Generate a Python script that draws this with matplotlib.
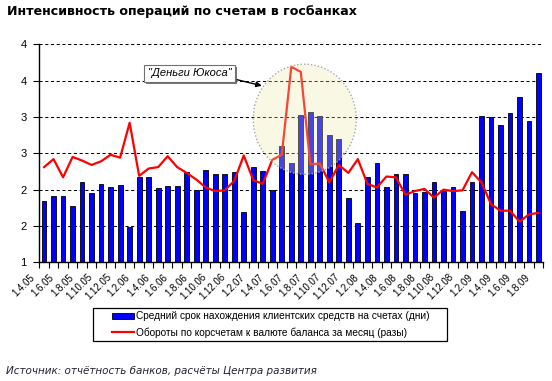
import matplotlib
matplotlib.use("Agg")
import matplotlib.pyplot as plt
import numpy as np
from matplotlib.patches import Ellipse, Rectangle
from matplotlib.lines import Line2D
from matplotlib import patheffects as pe
from matplotlib.transforms import ScaledTranslation

title = "Интенсивность операций по счетам в госбанках"
source = "Источник: отчётность банков, расчёты Центра развития"
bar_label = "Средний срок нахождения клиентских средств на счетах (дни)"
line_label = "Обороты по корсчетам к валюте баланса за месяц (разы)"
note = "\"Деньги Юкоса\""

x_labels = ["1.4.05", "1.6.05", "1.8.05", "1.10.05", "1.12.05", "1.2.06", "1.4.06",
            "1.6.06", "1.8.06", "1.10.06", "1.12.06", "1.2.07", "1.4.07", "1.6.07",
            "1.8.07", "1.10.07", "1.12.07", "1.2.08", "1.4.08", "1.6.08", "1.8.08",
            "1.10.08", "1.12.08", "1.2.09", "1.4.09", "1.6.09", "1.8.09"]

bar_values = [1.85, 1.91, 1.91, 1.78, 2.10, 1.96, 2.08, 2.04, 2.06, 1.49,
              2.18, 2.18, 2.02, 2.05, 2.05, 2.24, 2.00, 2.27, 2.21, 2.21,
              2.24, 1.69, 2.31, 2.25, 2.00, 2.60, 2.36, 3.03, 3.07, 3.01,
              2.75, 2.70, 1.88, 1.54, 2.18, 2.37, 2.03, 2.22, 2.21, 1.96,
              1.97, 2.10, 1.98, 2.03, 1.70, 2.10, 3.01, 3.00, 2.89, 3.06,
              3.28, 2.94, 3.61]

line_values = [2.31, 2.42, 2.17, 2.45, 2.40, 2.34, 2.39, 2.48, 2.44, 2.92,
               2.19, 2.29, 2.31, 2.46, 2.31, 2.23, 2.14, 2.03, 1.98, 1.99,
               2.12, 2.47, 2.13, 2.08, 2.41, 2.48, 3.69, 3.62, 2.35, 2.36,
               2.10, 2.34, 2.23, 2.42, 2.08, 2.03, 2.18, 2.17, 1.93, 1.98,
               2.01, 1.89, 2.00, 1.98, 1.99, 2.24, 2.10, 1.80, 1.71, 1.71,
               1.56, 1.66, 1.68]

y_ticks = [1.0, 1.5, 2.0, 2.5, 3.0, 3.5, 4.0]
y_tick_labels = ["1", "2", "2", "3", "3", "4", "4"]

W, H, DPI = 552, 381, 100
fig = plt.figure(figsize=(W / DPI, H / DPI), dpi=DPI)
fig.patch.set_facecolor("white")

def px_rect(x0, y0, x1, y1):
    return [x0 / W, 1 - y1 / H, (x1 - x0) / W, (y1 - y0) / H]

def fx(px):
    return px / W

def fy(py):
    return 1 - py / H

ax = fig.add_axes(px_rect(39.3, 44.3, 543.3, 262.3))
n = len(bar_values)
x = np.arange(n)

ax.set_xlim(-0.5, n - 0.5)
ax.set_ylim(1, 4)

for yv in y_ticks[1:]:
    ax.axhline(yv, color="black", lw=0.75, ls=(0, (3, 2.5)), zorder=1)

ax.bar(x, bar_values, width=0.5, color="#0000FF", edgecolor="black", lw=0.6, zorder=2)
ax.plot(x, line_values, color="#FF0000", lw=1.6, zorder=3, solid_joinstyle="round")

# highlight ellipse
ax.add_patch(Ellipse((27.41, 2.969), 10.83, 1.514, facecolor="#EEE8AA", alpha=0.3,
                     edgecolor="none", zorder=4))
ax.add_patch(Ellipse((27.41, 2.969), 10.83, 1.514, facecolor="none",
                     edgecolor="#A8A8A8", lw=1.0, ls=(0, (1, 1.5)), zorder=4))

ann = ax.annotate(note, xy=(22.9, 3.43), xytext=(15.3, 3.60), textcoords="data",
                  ha="center", va="center", fontsize=8, style="italic",
                  family="Liberation Sans", zorder=6,
                  bbox=dict(boxstyle="square,pad=0.3", fc="white", ec="#707070", lw=0.8),
                  arrowprops=dict(arrowstyle="-|>", color="black", lw=1.0,
                                  relpos=(1.0, 0.0), shrinkA=0, shrinkB=0,
                                  mutation_scale=8))
ann.get_bbox_patch().set_path_effects([
    pe.SimplePatchShadow(offset=(1.5, -1.5), shadow_rgbFace="#555555", alpha=0.8),
    pe.Normal()])

for s in ["top", "right"]:
    ax.spines[s].set_visible(False)
ax.spines["left"].set_linewidth(1.0)
ax.spines["bottom"].set_linewidth(1.0)

ax.set_yticks(y_ticks)
ax.set_yticklabels(y_tick_labels, fontsize=8, family="Liberation Sans")
ax.tick_params(axis="y", length=4, width=0.8, pad=5)

ax.set_xticks(np.arange(0, n, 2))
ax.set_xticklabels(x_labels, fontsize=7, family="Liberation Sans", rotation=45,
                   ha="right", va="top", rotation_mode="anchor")
ax.set_xticks(np.arange(n + 1) - 0.5, minor=True)
ax.tick_params(axis="x", which="major", length=0, pad=7)
ax.tick_params(axis="x", which="minor", length=4, width=0.8, direction="out")
off = ScaledTranslation(-14 / DPI, 0, fig.dpi_scale_trans)
for lab in ax.get_xticklabels():
    lab.set_transform(lab.get_transform() + off)

fig.text(fx(7), fy(11), title, fontsize=9.1, fontweight="bold",
         family="DejaVu Sans", va="center", ha="left")
fig.text(fx(6), fy(371), source, fontsize=7.5, style="italic",
         family="DejaVu Sans", color="#222233", va="center", ha="left")

# legend (drawn by hand to match the box layout)
fig.add_artist(Rectangle((fx(93.3), fy(340.7)), fx(446.7) - fx(93.3), fy(308.3) - fy(340.7),
                         transform=fig.transFigure, facecolor="white", edgecolor="black",
                         lw=0.9))
fig.add_artist(Rectangle((fx(111.7), fy(319)), fx(134) - fx(111.7), fy(313) - fy(319),
                         transform=fig.transFigure, facecolor="#0000FF", edgecolor="black",
                         lw=0.6))
fig.add_artist(Line2D([fx(111.7), fx(134)], [fy(332), fy(332)], transform=fig.transFigure,
                      color="#FF0000", lw=1.6))
fig.text(fx(136), fy(316), bar_label, fontsize=7.25, family="Liberation Sans",
         va="center", ha="left")
fig.text(fx(136), fy(332.5), line_label, fontsize=7.25, family="Liberation Sans",
         va="center", ha="left")

fig.savefig("out.png", dpi=DPI)
